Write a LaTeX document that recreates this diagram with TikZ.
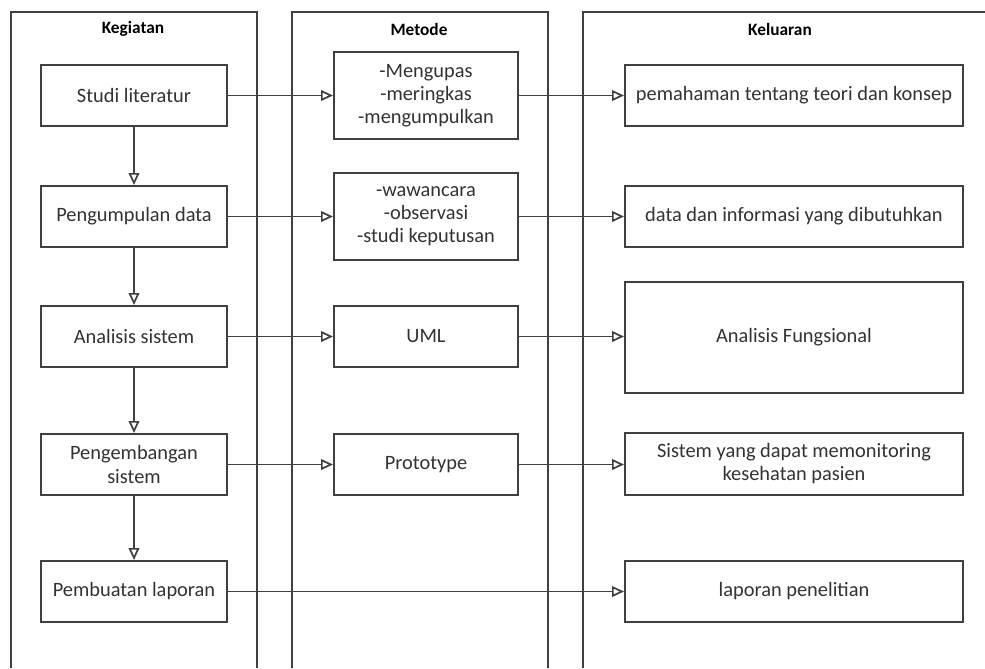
\documentclass[tikz,border=0pt]{standalone}
\usepackage{fontspec}
\setmainfont{Carlito}
\usetikzlibrary{arrows.meta}
\definecolor{linegray}{HTML}{404040}
\definecolor{textgray}{HTML}{333333}
\begin{document}
\begin{tikzpicture}[x=0.75pt,y=-0.75pt,
    >={Triangle[open,length=9pt,width=8pt]},
    lane/.style={line width=1.3pt, draw=linegray},
    box/.style={draw=linegray, line width=1.5pt, fill=white, inner sep=0pt,
        align=center, text=textgray, font=\fontsize{15.3}{17.3}\selectfont},
    kbox/.style={box, minimum width=139.5pt, minimum height=45.75pt},
    mbox/.style={box, minimum width=138pt, minimum height=45.75pt},
    obox/.style={box, minimum width=253.5pt, minimum height=45.75pt},
    head/.style={font=\fontsize{13}{15}\selectfont\bfseries, text=black},
    link/.style={->, line width=1.3pt, draw=linegray}]
    \useasboundingbox (0,0) rectangle (985,668);
    \draw [lane] (11,668) -- (11,12) -- (257,12) -- (257,668);
    \draw [lane] (292,668) -- (292,12) -- (548,12) -- (548,668);
    \draw [lane] (583,668) -- (583,12) -- (985,12);
    \node [head] (hk) at (133,29) {Kegiatan};
    \node [head] (hm) at (419,29) {Metode};
    \node [head] (ho) at (780,29) {Keluaran};
    \node [kbox] (studi)  at (134,95.5)  {Studi literatur};
    \node [kbox] (kumpul) at (134,216.5) {Pengumpulan data};
    \node [kbox] (anal)   at (134,336.5) {Analisis sistem};
    \node [kbox] (kembang) at (134,464.5) {Pengembangan\\sistem};
    \node [kbox] (buat)   at (134,591.5) {Pembuatan laporan};
    \node [mbox, minimum height=65.25pt] (kupas) at (426,95.5)
        {-Mengupas\\-meringkas\\-mengumpulkan};
    \node [mbox, minimum height=65.25pt] (wawan) at (426,216.5)
        {-wawancara\\-observasi\\-studi keputusan};
    \node [mbox] (uml)   at (426,336.5) {UML};
    \node [mbox] (proto) at (426,464.5) {Prototype};
    \node [obox] (paham) at (794,95.5)  {pemahaman tentang teori dan konsep};
    \node [obox] (info)  at (794,216.5) {data dan informasi yang dibutuhkan};
    \node [obox, minimum height=83.25pt] (fungsi) at (794,337.5) {Analisis Fungsional};
    \node [obox, minimum height=46.5pt] (monitor) at (794,464)
        {Sistem yang dapat memonitoring\\kesehatan pasien};
    \node [obox] (lapor) at (794,591.5) {laporan penelitian};
    \draw [link] (studi) -- (kumpul);
    \draw [link] (kumpul) -- (anal);
    \draw [link] (anal) -- (kembang);
    \draw [link] (kembang) -- (buat);
    \draw [link] (studi) -- (kupas);
    \draw [link] (kumpul) -- (wawan);
    \draw [link] (anal) -- (uml);
    \draw [link] (kembang) -- (proto);
    \draw [link] (kupas) -- (paham);
    \draw [link] (wawan) -- (info);
    \draw [link] (uml.east) -- (uml.east -| fungsi.west);
    \draw [link] (proto) -- (monitor.west |- proto);
    \draw [link] (buat) -- (lapor);
\end{tikzpicture}
\end{document}
